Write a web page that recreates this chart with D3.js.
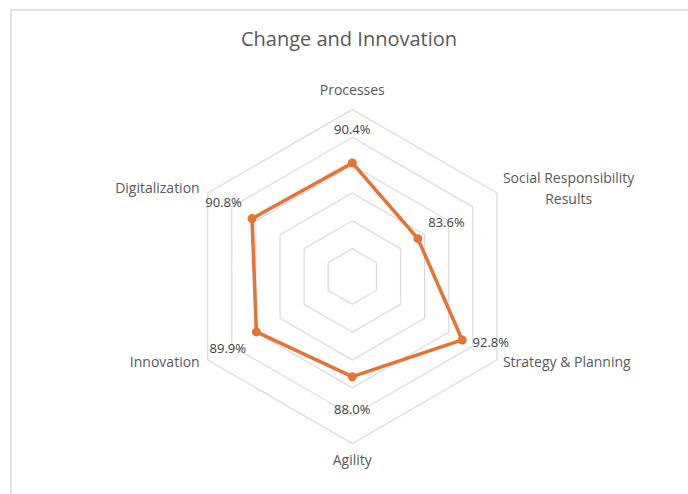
<!DOCTYPE html>
<html>
<head>
<meta charset="utf-8">
<script src="https://cdn.jsdelivr.net/npm/d3@7"></script>
<style>
  html, body { margin: 0; padding: 0; background: #fff; }
  svg text { font-family: "Open Sans", sans-serif; }
</style>
</head>
<body>
<svg id="chart"></svg>
<script>
const width = 688;
const height = 494;
const cx = 352.3, cy = 276.5, radius = 167;
const orange = "#E97132";

// data
const categories = ["Processes", "Social Responsibility Results", "Strategy & Planning", "Agility", "Innovation", "Digitalization"];
const categoryLines = [["Processes"], ["Social Responsibility", "Results"], ["Strategy & Planning"], ["Agility"], ["Innovation"], ["Digitalization"]];
const values = [90.4, 83.6, 92.8, 88.0, 89.9, 90.8];
const ringTicks = [70, 75, 80, 85, 90, 95, 100];

const svg = d3.select("#chart")
    .attr("width", width)
    .attr("height", height)
    .attr("viewBox", [0, 0, width, height]);

// chart frame (cropped at right / bottom)
svg.append("rect")
    .attr("x", 11).attr("y", 10)
    .attr("width", width + 20).attr("height", height + 20)
    .attr("fill", "none")
    .attr("stroke", "#d9d9d9")
    .attr("stroke-width", 1.5);

const r = d3.scaleLinear().domain([70, 100]).range([0, radius]);
const angle = d3.scalePoint().domain(categories).range([0, 2 * Math.PI * 5 / 6]);
const px = (c, v) => cx + r(v) * Math.sin(angle(c));
const py = (c, v) => cy - r(v) * Math.cos(angle(c));

// gridline rings
svg.append("g")
    .selectAll("polygon")
    .data(ringTicks.slice(1))
    .join("polygon")
    .attr("points", t => categories.map(c => [px(c, t), py(c, t)].join(",")).join(" "))
    .attr("fill", "none")
    .attr("stroke", "#d9d9d9")
    .attr("stroke-width", 1.2);

// series line
const line = d3.line()
    .x(d => px(d.c, d.v))
    .y(d => py(d.c, d.v))
    .curve(d3.curveLinearClosed);
const pts = categories.map((c, i) => ({c: c, v: values[i]}));

svg.append("path")
    .datum(pts)
    .attr("d", line)
    .attr("fill", "none")
    .attr("stroke", orange)
    .attr("stroke-width", 3.5)
    .attr("stroke-linejoin", "round");

svg.append("g")
    .selectAll("circle")
    .data(pts)
    .join("circle")
    .attr("cx", d => px(d.c, d.v))
    .attr("cy", d => py(d.c, d.v))
    .attr("r", 4.5)
    .attr("fill", orange);

// data labels, pushed out along the spoke (Strategy one sits beside its point)
const labelShift = {"Strategy & Planning": [0, -14.5]};
svg.append("g")
    .selectAll("text")
    .data(pts)
    .join("text")
    .attr("x", d => px(d.c, d.v) + 33 * Math.sin(angle(d.c)) + (labelShift[d.c] || [0, 0])[0])
    .attr("y", d => py(d.c, d.v) - 33 * Math.cos(angle(d.c)) + (labelShift[d.c] || [0, 0])[1])
    .attr("dy", "0.35em")
    .attr("text-anchor", "middle")
    .attr("fill", "#404040")
    .style("font-size", "13px")
    .text(d => d.v.toFixed(1) + "%");

// category labels
const cat = svg.append("g")
    .selectAll("text")
    .data(categories)
    .join("text")
    .attr("fill", "#595959")
    .style("font-size", "14px");

cat.each(function(c, i) {
    const a = angle(c);
    const vx = px(c, 100), vy = py(c, 100);
    const lines = categoryLines[i];
    const t = d3.select(this);
    let x, y, anchor;
    if (Math.abs(Math.sin(a)) < 0.01) {
        anchor = "middle";
        x = vx;
        y = Math.cos(a) > 0 ? vy - 19.5 : vy + 16.5;
    } else if (Math.sin(a) > 0) {
        anchor = "start";
        x = vx + 6;
        y = Math.cos(a) > 0 ? vy - 4.5 : vy + 2.5;
    } else {
        anchor = "end";
        x = vx - 8;
        y = Math.cos(a) > 0 ? vy - 4.5 : vy + 2.5;
    }
    const lh = 20.5;
    const top = y - (lines.length - 1) * lh / 2;
    t.attr("text-anchor", anchor);
    lines.forEach((s, k) => {
        t.append("tspan").attr("x", x).attr("y", top + k * lh).attr("dy", "0.35em").text(s);
    });
    if (lines.length > 1) {
        // multi-line labels are centred inside their own block
        const spans = t.selectAll("tspan").nodes();
        const w = d3.max(spans, n => n.getComputedTextLength());
        t.attr("text-anchor", "middle");
        t.selectAll("tspan").attr("x", anchor === "start" ? x + w / 2 : anchor === "end" ? x - w / 2 : x);
    }
});

// title
svg.append("text")
    .attr("x", 349)
    .attr("y", 46)
    .attr("text-anchor", "middle")
    .attr("fill", "#595959")
    .style("font-size", "20px")
    .text("Change and Innovation");
</script>
</body>
</html>
